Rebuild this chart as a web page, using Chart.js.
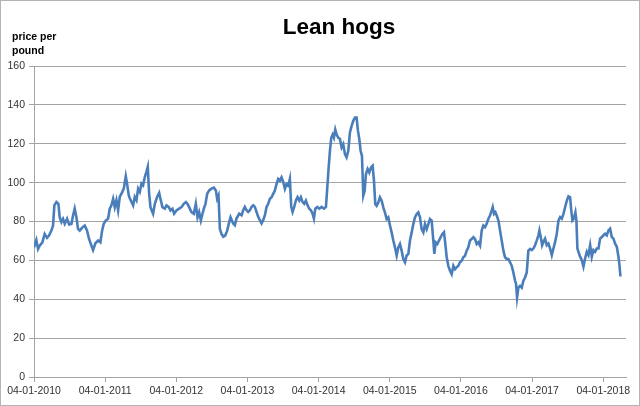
<!DOCTYPE html>
<html>
<head>
<meta charset="utf-8">
<title>Lean hogs</title>
<script src="https://cdn.jsdelivr.net/npm/chart.js@4/dist/chart.umd.min.js"></script>
<style>
  html, body { margin: 0; padding: 0; background: #ffffff; }
  #hogChart { display: block; }
</style>
</head>
<body>
<canvas id="hogChart" width="640" height="406"></canvas>
<script>
// Lean hogs, price per pound (roughly every 2 weeks)
// x = decimal year, counted from 04-01-2010
const years = [
  2010.000, 2010.033, 2010.057, 2010.080, 2010.118, 2010.150, 2010.183, 2010.211, 2010.244, 2010.268,
  2010.286, 2010.315, 2010.343, 2010.361, 2010.385, 2010.408, 2010.432, 2010.465, 2010.493, 2010.526,
  2010.549, 2010.572, 2010.596, 2010.619, 2010.643, 2010.680, 2010.713, 2010.746, 2010.774, 2010.807,
  2010.830, 2010.863, 2010.901, 2010.933, 2010.957, 2010.980, 2011.008, 2011.041, 2011.065, 2011.088,
  2011.112, 2011.135, 2011.158, 2011.182, 2011.205, 2011.229, 2011.262, 2011.290, 2011.308, 2011.332,
  2011.346, 2011.393, 2011.416, 2011.440, 2011.463, 2011.487, 2011.510, 2011.533, 2011.557, 2011.580,
  2011.599, 2011.618, 2011.637, 2011.655, 2011.674, 2011.698, 2011.730, 2011.759, 2011.777, 2011.805,
  2011.838, 2011.862, 2011.895, 2011.918, 2011.946, 2011.969, 2012.002, 2012.040, 2012.073, 2012.105,
  2012.134, 2012.157, 2012.180, 2012.213, 2012.246, 2012.274, 2012.298, 2012.321, 2012.345, 2012.368,
  2012.387, 2012.410, 2012.434, 2012.462, 2012.495, 2012.527, 2012.556, 2012.574, 2012.593, 2012.612,
  2012.635, 2012.659, 2012.687, 2012.715, 2012.743, 2012.762, 2012.799, 2012.823, 2012.846, 2012.884,
  2012.917, 2012.940, 2012.963, 2012.987, 2013.010, 2013.034, 2013.057, 2013.081, 2013.104, 2013.128,
  2013.151, 2013.174, 2013.198, 2013.221, 2013.245, 2013.268, 2013.292, 2013.315, 2013.339, 2013.362,
  2013.385, 2013.409, 2013.432, 2013.456, 2013.479, 2013.503, 2013.526, 2013.549, 2013.573, 2013.596,
  2013.615, 2013.634, 2013.657, 2013.681, 2013.704, 2013.728, 2013.751, 2013.775, 2013.798, 2013.821,
  2013.845, 2013.868, 2013.892, 2013.915, 2013.934, 2013.953, 2013.981, 2014.009, 2014.042, 2014.075,
  2014.103, 2014.122, 2014.141, 2014.159, 2014.178, 2014.197, 2014.215, 2014.234, 2014.253, 2014.276,
  2014.300, 2014.323, 2014.346, 2014.370, 2014.393, 2014.417, 2014.440, 2014.464, 2014.487, 2014.511,
  2014.534, 2014.553, 2014.572, 2014.590, 2014.609, 2014.618, 2014.628, 2014.647, 2014.665, 2014.689,
  2014.712, 2014.736, 2014.759, 2014.778, 2014.796, 2014.815, 2014.839, 2014.862, 2014.886, 2014.909,
  2014.932, 2014.956, 2014.979, 2015.003, 2015.026, 2015.050, 2015.073, 2015.097, 2015.120, 2015.143,
  2015.167, 2015.190, 2015.214, 2015.237, 2015.261, 2015.284, 2015.308, 2015.331, 2015.354, 2015.378,
  2015.401, 2015.425, 2015.448, 2015.472, 2015.495, 2015.519, 2015.542, 2015.565, 2015.589, 2015.612,
  2015.626, 2015.645, 2015.669, 2015.692, 2015.715, 2015.739, 2015.762, 2015.781, 2015.800, 2015.823,
  2015.847, 2015.870, 2015.894, 2015.917, 2015.940, 2015.964, 2015.987, 2016.011, 2016.034, 2016.058,
  2016.081, 2016.104, 2016.128, 2016.151, 2016.175, 2016.198, 2016.222, 2016.245, 2016.269, 2016.292,
  2016.315, 2016.339, 2016.362, 2016.386, 2016.409, 2016.433, 2016.447, 2016.466, 2016.484, 2016.503,
  2016.527, 2016.550, 2016.573, 2016.597, 2016.620, 2016.644, 2016.667, 2016.691, 2016.714, 2016.737,
  2016.761, 2016.775, 2016.789, 2016.808, 2016.831, 2016.855, 2016.878, 2016.901, 2016.925, 2016.948,
  2016.972, 2016.995, 2017.019, 2017.042, 2017.066, 2017.089, 2017.103, 2017.122, 2017.141, 2017.160,
  2017.183, 2017.207, 2017.230, 2017.253, 2017.277, 2017.300, 2017.324, 2017.347, 2017.371, 2017.394,
  2017.418, 2017.441, 2017.464, 2017.488, 2017.511, 2017.535, 2017.549, 2017.567, 2017.586, 2017.609,
  2017.623, 2017.637, 2017.652, 2017.675, 2017.698, 2017.722, 2017.745, 2017.769, 2017.792, 2017.816,
  2017.839, 2017.862, 2017.886, 2017.909, 2017.933, 2017.956, 2017.980, 2018.003, 2018.027, 2018.050,
  2018.073, 2018.097, 2018.120, 2018.144, 2018.167, 2018.191, 2018.214, 2018.228, 2018.242
];

const prices = [
  66.7, 70.5, 65.9, 67.6, 69.3, 73.6, 71.6, 72.8, 75.3, 78.0,
  88.3, 90.0, 89.1, 82.2, 79.7, 81.4, 78.8, 81.4, 78.5, 78.8,
  83.1, 86.6, 82.2, 76.2, 75.3, 77.0, 77.9, 75.3, 71.0, 67.6,
  65.3, 68.8, 70.2, 69.3, 75.3, 78.8, 80.5, 81.4, 86.6, 88.3,
  91.7, 87.4, 90.9, 85.7, 92.6, 94.3, 96.9, 103.3, 99.5, 93.4,
  92.0, 88.3, 92.6, 90.9, 96.9, 95.2, 99.5, 98.6, 102.9, 105.5,
  108.1, 94.3, 87.4, 85.7, 84.0, 89.1, 92.6, 94.7, 91.7, 87.4,
  86.6, 88.3, 87.4, 85.7, 86.6, 84.0, 85.7, 86.6, 87.4, 89.1,
  90.0, 89.1, 87.4, 84.8, 84.0, 89.1, 82.2, 84.8, 80.5, 84.0,
  86.6, 89.1, 94.3, 96.0, 96.9, 97.4, 96.0, 91.7, 93.4, 76.2,
  73.6, 72.2, 72.8, 75.3, 79.7, 82.2, 79.0, 78.1, 81.5, 84.0,
  83.2, 85.8, 87.5, 85.8, 84.9, 85.8, 87.5, 88.3, 87.5, 84.9,
  82.4, 80.7, 79.0, 80.7, 83.2, 87.5, 89.1, 91.7, 92.5, 94.2,
  95.9, 99.3, 101.9, 101.0, 102.7, 100.2, 96.8, 99.3, 98.5, 101.9,
  87.5, 84.9, 87.5, 90.8, 92.5, 90.8, 92.5, 90.0, 89.1, 90.8,
  88.3, 86.6, 85.8, 84.0, 81.5, 86.6, 87.5, 86.6, 87.5, 86.6,
  87.5, 97.6, 107.8, 116.3, 123.1, 124.7, 123.1, 127.3, 124.7, 123.1,
  122.4, 118.1, 119.8, 114.7, 113.0, 116.4, 125.8, 129.2, 131.8, 133.5,
  133.5, 126.6, 122.4, 116.4, 113.8, 104.4, 93.3, 95.8, 104.4, 107.0,
  105.2, 107.8, 108.7, 101.0, 89.0, 88.1, 89.8, 92.4, 90.7, 87.3,
  84.7, 81.3, 82.1, 77.9, 74.4, 70.2, 66.7, 62.5, 66.7, 68.4,
  65.0, 60.7, 59.0, 62.5, 63.3, 70.2, 74.4, 78.7, 82.1, 83.8,
  84.7, 82.1, 76.1, 74.4, 78.7, 76.1, 78.7, 81.3, 80.5, 70.2,
  63.3, 69.3, 68.4, 70.2, 71.9, 73.6, 74.5, 68.4, 61.6, 57.2,
  54.7, 52.9, 57.2, 55.5, 56.4, 57.2, 59.0, 59.8, 61.6, 62.4,
  65.0, 66.7, 70.2, 71.0, 71.9, 71.0, 68.4, 69.3, 67.6, 75.3,
  77.9, 77.1, 78.8, 81.4, 83.1, 85.7, 87.4, 84.0, 84.8, 83.1,
  80.5, 75.3, 70.2, 65.0, 61.6, 60.7, 60.7, 59.0, 57.2, 53.8,
  49.5, 47.8, 40.9, 46.0, 46.9, 46.0, 49.5, 51.2, 53.8, 65.0,
  65.9, 65.3, 66.1, 67.8, 70.3, 72.9, 75.4, 72.0, 67.8, 69.5,
  71.2, 67.8, 68.6, 66.1, 62.7, 66.1, 69.5, 73.7, 80.5, 82.2,
  81.4, 83.9, 87.3, 90.7, 92.9, 92.4, 86.4, 80.5, 81.4, 84.7,
  80.5, 66.1, 64.4, 61.9, 60.2, 56.8, 61.0, 64.4, 62.7, 67.8,
  61.9, 65.3, 64.4, 66.1, 66.1, 71.2, 72.0, 72.9, 73.7, 72.9,
  75.4, 76.3, 72.0, 71.2, 68.6, 67.0, 61.9, 57.6, 51.7
];

const tickYears = [2010, 2011, 2012, 2013, 2014, 2015, 2016, 2017, 2018];
const tickLabels = ["04-01-2010", "04-01-2011", "04-01-2012", "04-01-2013", "04-01-2014",
  "04-01-2015", "04-01-2016", "04-01-2017", "04-01-2018"];

const points = years.map(function(year, i) {
  return { x: year, y: prices[i] };
});

const gridGray = "#a3a3a3";

// title, axis caption and the thin frame round the picture
const chartText = {
  id: "chartText",
  beforeDraw(chart) {
    const ctx = chart.ctx;
    ctx.save();
    ctx.fillStyle = "#ffffff";
    ctx.fillRect(0, 0, chart.width, chart.height);
    ctx.restore();
  },
  afterDraw(chart) {
    const ctx = chart.ctx;
    ctx.save();
    ctx.strokeStyle = "#b4b4b4";
    ctx.lineWidth = 1;
    ctx.strokeRect(0.5, 0.5, chart.width - 1, chart.height - 1);

    ctx.fillStyle = "#000000";
    ctx.textBaseline = "alphabetic";
    ctx.textAlign = "center";
    ctx.font = "bold 22.5px 'Liberation Sans', Arial, sans-serif";
    ctx.fillText("Lean hogs", 339, 34);

    ctx.textAlign = "left";
    ctx.font = "bold 10.5px 'Liberation Sans', Arial, sans-serif";
    ctx.fillText("price per", 12, 40);
    ctx.fillText("pound", 12, 54);
    ctx.restore();
  }
};

Chart.defaults.font.family = "'Liberation Sans', Arial, sans-serif";
Chart.defaults.font.size = 10.5;
Chart.defaults.color = "#333333";

const ctx = document.getElementById("hogChart").getContext("2d");

new Chart(ctx, {
  type: "line",
  data: {
    datasets: [
      {
        label: "Lean hogs",
        data: points,
        borderColor: "#4a7ebb",
        borderWidth: 2.6,
        pointRadius: 0,
        tension: 0,
        fill: false
      }
    ]
  },
  options: {
    responsive: false,
    animation: false,
    layout: {
      padding: { top: 66, right: 14, bottom: 0, left: 0 }
    },
    plugins: {
      legend: { display: false },
      title: { display: false },
      tooltip: { enabled: false }
    },
    scales: {
      x: {
        type: "linear",
        min: 2010,
        max: 2018.32,
        afterBuildTicks: function(scale) {
          scale.ticks = tickYears.map(function(v) {
            return { value: v };
          });
        },
        afterFit: function(scale) {
          scale.height = 29;
        },
        ticks: {
          autoSkip: false,
          maxRotation: 0,
          padding: 3,
          callback: function(value) {
            const i = tickYears.indexOf(value);
            return i >= 0 ? tickLabels[i] : "";
          }
        },
        grid: {
          drawOnChartArea: false,
          drawTicks: true,
          tickLength: 5,
          color: gridGray
        },
        border: { display: true, color: gridGray }
      },
      y: {
        min: 0,
        max: 160,
        afterFit: function(scale) {
          scale.width = 34;
        },
        ticks: {
          stepSize: 20,
          padding: 4
        },
        grid: {
          color: gridGray,
          drawTicks: true,
          tickLength: 5
        },
        border: { display: true, color: gridGray }
      }
    }
  },
  plugins: [chartText]
});
</script>
</body>
</html>
